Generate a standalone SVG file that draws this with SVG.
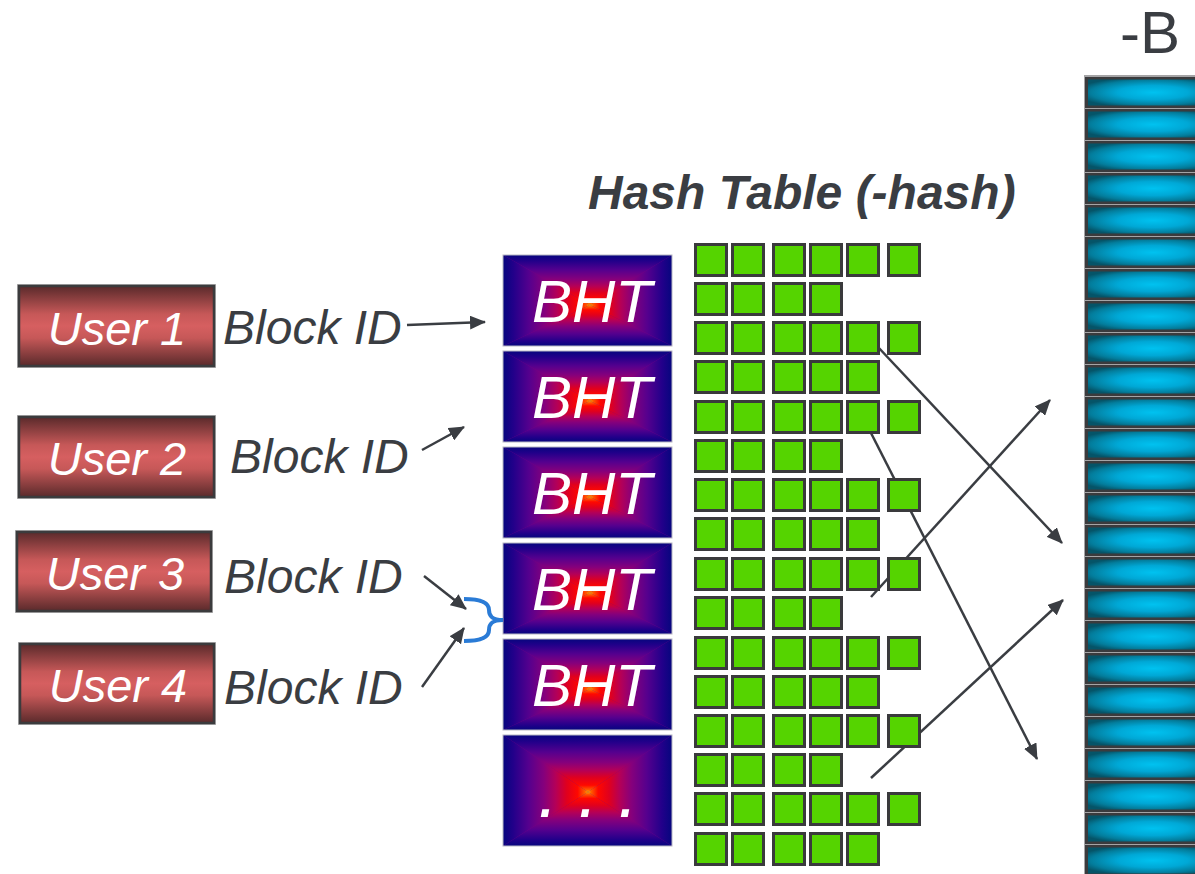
<svg xmlns="http://www.w3.org/2000/svg" width="1195" height="874" viewBox="0 0 1195 874">
<defs>
<style>
.usr-box{fill:url(#gUser);stroke:#3b3b3d;stroke-width:2.5}
.usr-out{fill:none;stroke:#b5b5b5;stroke-width:1}
.usr-txt{font-family:"Liberation Sans",Arial,sans-serif;font-style:italic;font-size:47px;fill:#ffffff;text-anchor:middle}
.bid{font-family:"Liberation Sans",Arial,sans-serif;font-style:italic;font-size:48px;fill:#3a3d42}
.bht-border{fill:none;stroke:#b8b8c4;stroke-width:1}
.bht-txt{font-family:"Liberation Sans",Arial,sans-serif;font-style:italic;font-size:60px;fill:#ffffff;text-anchor:middle}
.sq{fill:#55d400;stroke:#3a3a3c;stroke-width:3}
.conn{stroke:#3a3d42;stroke-width:2.5;fill:none;marker-end:url(#arr)}
.stor-frame{fill:#3b3b3d}
.stor-cell{fill:url(#gCyan)}
.title{font-family:"Liberation Sans",Arial,sans-serif;font-style:italic;font-weight:bold;font-size:48px;fill:#3a3d42}
.label-b{font-family:"Liberation Sans",Arial,sans-serif;font-size:60px;fill:#3a3d42}
</style>
<linearGradient id="gUser" x1="0" y1="0" x2="0" y2="1">
<stop offset="0" stop-color="#5a2a2b"/>
<stop offset="0.35" stop-color="#c65858"/>
<stop offset="0.5" stop-color="#d65f60"/>
<stop offset="0.65" stop-color="#c65858"/>
<stop offset="1" stop-color="#5a2a2b"/>
</linearGradient>
<linearGradient id="gT" x1="0" y1="0" x2="0" y2="1">
<stop offset="0" stop-color="#06067e"/>
<stop offset="0.12" stop-color="#22008a"/>
<stop offset="0.3" stop-color="#55008e"/>
<stop offset="0.48" stop-color="#85007c"/>
<stop offset="0.62" stop-color="#b40058"/>
<stop offset="0.75" stop-color="#e0001e"/>
<stop offset="0.88" stop-color="#ff0800"/>
<stop offset="0.96" stop-color="#ff5a00"/>
<stop offset="1" stop-color="#ffb000"/>
</linearGradient>
<linearGradient id="gB" href="#gT" x1="0" y1="1" x2="0" y2="0"/>
<linearGradient id="gL" href="#gT" x1="0" y1="0" x2="1" y2="0"/>
<linearGradient id="gR" href="#gT" x1="1" y1="0" x2="0" y2="0"/>
<radialGradient id="gCyan" cx="0.5" cy="0.5" r="0.6">
<stop offset="0" stop-color="#00c2f0"/>
<stop offset="0.45" stop-color="#00a8d6"/>
<stop offset="0.8" stop-color="#037d9c"/>
<stop offset="1" stop-color="#055468"/>
</radialGradient>
<marker id="arr" markerUnits="userSpaceOnUse" markerWidth="16" markerHeight="14" refX="15" refY="7" orient="auto">
<path d="M0,0 L16,7 L0,14 z" fill="#3a3d42"/>
</marker>
<g id="bhtShape">
<rect width="169" height="91" fill="#7a0080"/>
<polygon points="0,0 169,0 87,50" fill="url(#gT)"/>
<polygon points="0,91 169,91 87,50" fill="url(#gB)"/>
<polygon points="0,0 0,91 87,50" fill="url(#gL)"/>
<polygon points="169,0 169,91 87,50" fill="url(#gR)"/>
<rect class="bht-border" x="0" y="0" width="169" height="91"/>
</g>
</defs>
<rect width="1195" height="874" fill="#ffffff"/>

<g id="storage">
<text class="label-b" x="1120" y="53">-B</text>
<rect x="1084" y="75" width="120" height="800" fill="#a4a4a6"/>
<g id="storage-rows">
<rect class="stor-frame" x="1085" y="77" width="120" height="31"/><rect class="stor-cell" x="1088" y="79.5" width="130" height="26"/>
<rect class="stor-frame" x="1085" y="109" width="120" height="31"/><rect class="stor-cell" x="1088" y="111.5" width="130" height="26"/>
<rect class="stor-frame" x="1085" y="141" width="120" height="31"/><rect class="stor-cell" x="1088" y="143.5" width="130" height="26"/>
<rect class="stor-frame" x="1085" y="173" width="120" height="31"/><rect class="stor-cell" x="1088" y="175.5" width="130" height="26"/>
<rect class="stor-frame" x="1085" y="205" width="120" height="31"/><rect class="stor-cell" x="1088" y="207.5" width="130" height="26"/>
<rect class="stor-frame" x="1085" y="237" width="120" height="31"/><rect class="stor-cell" x="1088" y="239.5" width="130" height="26"/>
<rect class="stor-frame" x="1085" y="269" width="120" height="31"/><rect class="stor-cell" x="1088" y="271.5" width="130" height="26"/>
<rect class="stor-frame" x="1085" y="301" width="120" height="31"/><rect class="stor-cell" x="1088" y="303.5" width="130" height="26"/>
<rect class="stor-frame" x="1085" y="333" width="120" height="31"/><rect class="stor-cell" x="1088" y="335.5" width="130" height="26"/>
<rect class="stor-frame" x="1085" y="365" width="120" height="31"/><rect class="stor-cell" x="1088" y="367.5" width="130" height="26"/>
<rect class="stor-frame" x="1085" y="397" width="120" height="31"/><rect class="stor-cell" x="1088" y="399.5" width="130" height="26"/>
<rect class="stor-frame" x="1085" y="429" width="120" height="31"/><rect class="stor-cell" x="1088" y="431.5" width="130" height="26"/>
<rect class="stor-frame" x="1085" y="461" width="120" height="31"/><rect class="stor-cell" x="1088" y="463.5" width="130" height="26"/>
<rect class="stor-frame" x="1085" y="493" width="120" height="31"/><rect class="stor-cell" x="1088" y="495.5" width="130" height="26"/>
<rect class="stor-frame" x="1085" y="525" width="120" height="31"/><rect class="stor-cell" x="1088" y="527.5" width="130" height="26"/>
<rect class="stor-frame" x="1085" y="557" width="120" height="31"/><rect class="stor-cell" x="1088" y="559.5" width="130" height="26"/>
<rect class="stor-frame" x="1085" y="589" width="120" height="31"/><rect class="stor-cell" x="1088" y="591.5" width="130" height="26"/>
<rect class="stor-frame" x="1085" y="621" width="120" height="31"/><rect class="stor-cell" x="1088" y="623.5" width="130" height="26"/>
<rect class="stor-frame" x="1085" y="653" width="120" height="31"/><rect class="stor-cell" x="1088" y="655.5" width="130" height="26"/>
<rect class="stor-frame" x="1085" y="685" width="120" height="31"/><rect class="stor-cell" x="1088" y="687.5" width="130" height="26"/>
<rect class="stor-frame" x="1085" y="717" width="120" height="31"/><rect class="stor-cell" x="1088" y="719.5" width="130" height="26"/>
<rect class="stor-frame" x="1085" y="749" width="120" height="31"/><rect class="stor-cell" x="1088" y="751.5" width="130" height="26"/>
<rect class="stor-frame" x="1085" y="781" width="120" height="31"/><rect class="stor-cell" x="1088" y="783.5" width="130" height="26"/>
<rect class="stor-frame" x="1085" y="813" width="120" height="31"/><rect class="stor-cell" x="1088" y="815.5" width="130" height="26"/>
<rect class="stor-frame" x="1085" y="845" width="120" height="31"/><rect class="stor-cell" x="1088" y="847.5" width="130" height="26"/>
</g>
</g>

<g id="user1"><rect class="usr-out" x="17.5" y="284.5" width="198" height="83"/><rect class="usr-box" x="19" y="286" width="195" height="80"/><text class="usr-txt" x="117" y="345">User 1</text></g>
<g id="user2"><rect class="usr-out" x="17.5" y="415.5" width="198" height="83"/><rect class="usr-box" x="19" y="417" width="195" height="80"/><text class="usr-txt" x="117" y="475">User 2</text></g>
<g id="user3"><rect class="usr-out" x="15.5" y="530.5" width="197" height="82"/><rect class="usr-box" x="17" y="532" width="194" height="79"/><text class="usr-txt" x="115" y="590">User 3</text></g>
<g id="user4"><rect class="usr-out" x="18.5" y="642.5" width="197" height="82"/><rect class="usr-box" x="20" y="644" width="194" height="79"/><text class="usr-txt" x="118" y="702">User 4</text></g>

<g id="blockid1"><text class="bid" x="223" y="344">Block ID</text></g>
<g id="blockid2"><text class="bid" x="230" y="473">Block ID</text></g>
<g id="blockid3"><text class="bid" x="224" y="593">Block ID</text></g>
<g id="blockid4"><text class="bid" x="224" y="704">Block ID</text></g>

<g id="bht1"><use href="#bhtShape" x="503" y="255"/><text class="bht-txt" x="592" y="322">BHT</text></g>
<g id="bht2"><use href="#bhtShape" x="503" y="351"/><text class="bht-txt" x="592" y="418">BHT</text></g>
<g id="bht3"><use href="#bhtShape" x="503" y="447"/><text class="bht-txt" x="592" y="514">BHT</text></g>
<g id="bht4"><use href="#bhtShape" x="503" y="543"/><text class="bht-txt" x="592" y="610">BHT</text></g>
<g id="bht5"><use href="#bhtShape" x="503" y="639"/><text class="bht-txt" x="592" y="706">BHT</text></g>
<g id="bht-more">
<rect x="503" y="735" width="169" height="111" fill="#7a0080"/>
<polygon points="503,735 672,735 588,792" fill="url(#gT)"/>
<polygon points="503,846 672,846 588,792" fill="url(#gB)"/>
<polygon points="503,735 503,846 588,792" fill="url(#gL)"/>
<polygon points="672,735 672,846 588,792" fill="url(#gR)"/>
<rect class="bht-border" x="503" y="735" width="169" height="111"/>
<text class="bht-txt" x="588" y="817" style="font-size:72px">. . .</text>
</g>

<g id="hash-title"><text class="title" x="588" y="209">Hash Table (-hash)</text></g>

<g id="connectors">
<line class="conn" x1="407" y1="325" x2="485" y2="322"/>
<line class="conn" x1="422" y1="450" x2="464" y2="427"/>
<line class="conn" x1="424" y1="576" x2="466" y2="609"/>
<line class="conn" x1="422" y1="687" x2="464" y2="628"/>
<path d="M464,599 C478,599 489,602 489,610 C489,616 492,620 503,620 C492,620 489,624 489,630 C489,638 478,641 464,641" fill="none" stroke="#2a7bd6" stroke-width="4"/>
<line class="conn" x1="878" y1="347" x2="1062" y2="543"/>
<line class="conn" x1="871" y1="433" x2="1037" y2="759"/>
<line class="conn" x1="871" y1="597" x2="1050" y2="400"/>
<line class="conn" x1="871" y1="778" x2="1063" y2="600"/>
</g>

<g id="hash-table">
<g id="row1"><rect class="sq" x="695.5" y="244.5" width="31" height="31"/><rect class="sq" x="732.5" y="244.5" width="31" height="31"/><rect class="sq" x="773.5" y="244.5" width="31" height="31"/><rect class="sq" x="810.5" y="244.5" width="31" height="31"/><rect class="sq" x="847.5" y="244.5" width="31" height="31"/><rect class="sq" x="888.5" y="244.5" width="31" height="31"/></g>
<g id="row2"><rect class="sq" x="695.5" y="283.5" width="31" height="31"/><rect class="sq" x="732.5" y="283.5" width="31" height="31"/><rect class="sq" x="773.5" y="283.5" width="31" height="31"/><rect class="sq" x="810.5" y="283.5" width="31" height="31"/></g>
<g id="row3"><rect class="sq" x="695.5" y="322.5" width="31" height="31"/><rect class="sq" x="732.5" y="322.5" width="31" height="31"/><rect class="sq" x="773.5" y="322.5" width="31" height="31"/><rect class="sq" x="810.5" y="322.5" width="31" height="31"/><rect class="sq" x="847.5" y="322.5" width="31" height="31"/><rect class="sq" x="888.5" y="322.5" width="31" height="31"/></g>
<g id="row4"><rect class="sq" x="695.5" y="361.5" width="31" height="31"/><rect class="sq" x="732.5" y="361.5" width="31" height="31"/><rect class="sq" x="773.5" y="361.5" width="31" height="31"/><rect class="sq" x="810.5" y="361.5" width="31" height="31"/><rect class="sq" x="847.5" y="361.5" width="31" height="31"/></g>
<g id="row5"><rect class="sq" x="695.5" y="401.5" width="31" height="31"/><rect class="sq" x="732.5" y="401.5" width="31" height="31"/><rect class="sq" x="773.5" y="401.5" width="31" height="31"/><rect class="sq" x="810.5" y="401.5" width="31" height="31"/><rect class="sq" x="847.5" y="401.5" width="31" height="31"/><rect class="sq" x="888.5" y="401.5" width="31" height="31"/></g>
<g id="row6"><rect class="sq" x="695.5" y="440.5" width="31" height="31"/><rect class="sq" x="732.5" y="440.5" width="31" height="31"/><rect class="sq" x="773.5" y="440.5" width="31" height="31"/><rect class="sq" x="810.5" y="440.5" width="31" height="31"/></g>
<g id="row7"><rect class="sq" x="695.5" y="479.5" width="31" height="31"/><rect class="sq" x="732.5" y="479.5" width="31" height="31"/><rect class="sq" x="773.5" y="479.5" width="31" height="31"/><rect class="sq" x="810.5" y="479.5" width="31" height="31"/><rect class="sq" x="847.5" y="479.5" width="31" height="31"/><rect class="sq" x="888.5" y="479.5" width="31" height="31"/></g>
<g id="row8"><rect class="sq" x="695.5" y="518.5" width="31" height="31"/><rect class="sq" x="732.5" y="518.5" width="31" height="31"/><rect class="sq" x="773.5" y="518.5" width="31" height="31"/><rect class="sq" x="810.5" y="518.5" width="31" height="31"/><rect class="sq" x="847.5" y="518.5" width="31" height="31"/></g>
<g id="row9"><rect class="sq" x="695.5" y="558.5" width="31" height="31"/><rect class="sq" x="732.5" y="558.5" width="31" height="31"/><rect class="sq" x="773.5" y="558.5" width="31" height="31"/><rect class="sq" x="810.5" y="558.5" width="31" height="31"/><rect class="sq" x="847.5" y="558.5" width="31" height="31"/><rect class="sq" x="888.5" y="558.5" width="31" height="31"/></g>
<g id="row10"><rect class="sq" x="695.5" y="597.5" width="31" height="31"/><rect class="sq" x="732.5" y="597.5" width="31" height="31"/><rect class="sq" x="773.5" y="597.5" width="31" height="31"/><rect class="sq" x="810.5" y="597.5" width="31" height="31"/></g>
<g id="row11"><rect class="sq" x="695.5" y="637.5" width="31" height="31"/><rect class="sq" x="732.5" y="637.5" width="31" height="31"/><rect class="sq" x="773.5" y="637.5" width="31" height="31"/><rect class="sq" x="810.5" y="637.5" width="31" height="31"/><rect class="sq" x="847.5" y="637.5" width="31" height="31"/><rect class="sq" x="888.5" y="637.5" width="31" height="31"/></g>
<g id="row12"><rect class="sq" x="695.5" y="676.5" width="31" height="31"/><rect class="sq" x="732.5" y="676.5" width="31" height="31"/><rect class="sq" x="773.5" y="676.5" width="31" height="31"/><rect class="sq" x="810.5" y="676.5" width="31" height="31"/><rect class="sq" x="847.5" y="676.5" width="31" height="31"/></g>
<g id="row13"><rect class="sq" x="695.5" y="715.5" width="31" height="31"/><rect class="sq" x="732.5" y="715.5" width="31" height="31"/><rect class="sq" x="773.5" y="715.5" width="31" height="31"/><rect class="sq" x="810.5" y="715.5" width="31" height="31"/><rect class="sq" x="847.5" y="715.5" width="31" height="31"/><rect class="sq" x="888.5" y="715.5" width="31" height="31"/></g>
<g id="row14"><rect class="sq" x="695.5" y="754.5" width="31" height="31"/><rect class="sq" x="732.5" y="754.5" width="31" height="31"/><rect class="sq" x="773.5" y="754.5" width="31" height="31"/><rect class="sq" x="810.5" y="754.5" width="31" height="31"/></g>
<g id="row15"><rect class="sq" x="695.5" y="793.5" width="31" height="31"/><rect class="sq" x="732.5" y="793.5" width="31" height="31"/><rect class="sq" x="773.5" y="793.5" width="31" height="31"/><rect class="sq" x="810.5" y="793.5" width="31" height="31"/><rect class="sq" x="847.5" y="793.5" width="31" height="31"/><rect class="sq" x="888.5" y="793.5" width="31" height="31"/></g>
<g id="row16"><rect class="sq" x="695.5" y="833.5" width="31" height="31"/><rect class="sq" x="732.5" y="833.5" width="31" height="31"/><rect class="sq" x="773.5" y="833.5" width="31" height="31"/><rect class="sq" x="810.5" y="833.5" width="31" height="31"/><rect class="sq" x="847.5" y="833.5" width="31" height="31"/></g>
</g>
</svg>
